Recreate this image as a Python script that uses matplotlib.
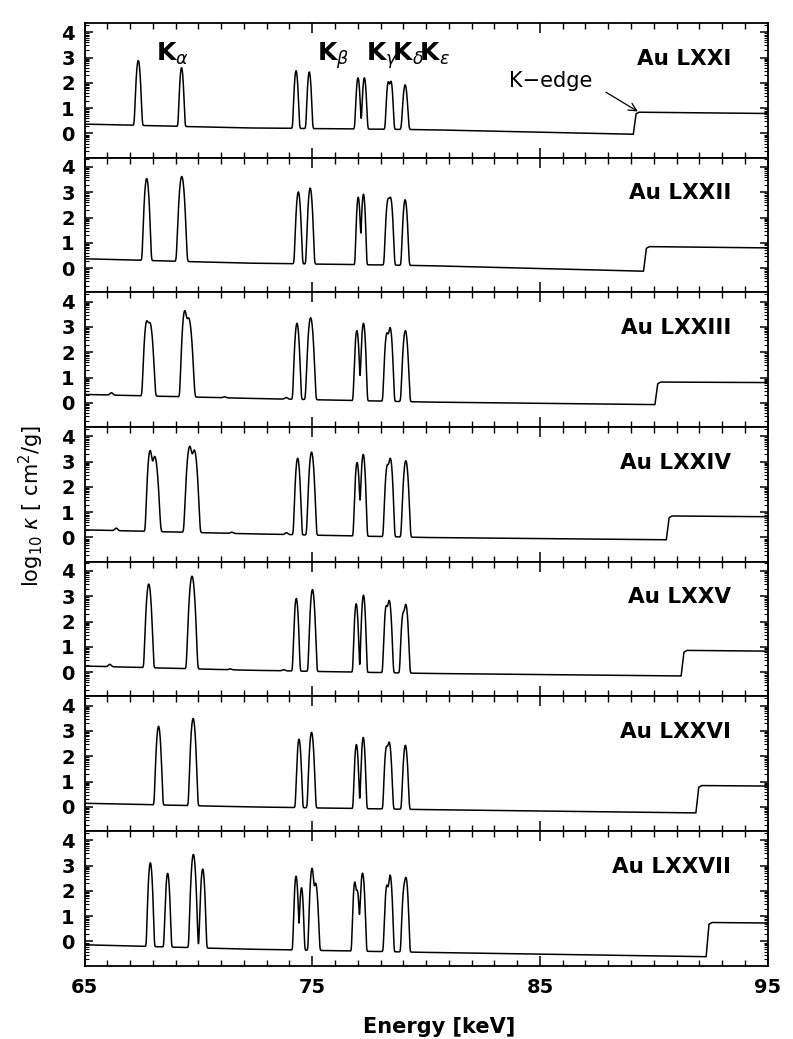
import numpy as np
import matplotlib
matplotlib.use("Agg")
import matplotlib.pyplot as plt
from matplotlib.ticker import FixedLocator, MultipleLocator

# ---------------- data ----------------
ION_LABELS = ["Au LXXI", "Au LXXII", "Au LXXIII", "Au LXXIV",
              "Au LXXV", "Au LXXVI", "Au LXXVII"]

# continuum (background) vertices incl. K-edge step, per panel
BG1_E = [65.0, 72.0, 80.0, 89.10, 89.22, 89.35, 95.0]
BG1_V = [0.37, 0.22, 0.15, -0.03, 0.78, 0.84, 0.79]
BG2_E = [65.0, 72.0, 80.0, 89.55, 89.67, 89.80, 95.0]
BG2_V = [0.37, 0.20, 0.10, -0.12, 0.78, 0.85, 0.80]
BG3_E = [65.0, 72.0, 80.0, 90.05, 90.17, 90.30, 95.0]
BG3_V = [0.33, 0.18, 0.03, -0.07, 0.75, 0.82, 0.80]
BG4_E = [65.0, 72.0, 80.0, 90.55, 90.67, 90.80, 95.0]
BG4_V = [0.30, 0.15, 0.00, -0.09, 0.78, 0.85, 0.82]
BG5_E = [65.0, 72.0, 80.0, 91.20, 91.32, 91.45, 95.0]
BG5_V = [0.24, 0.08, -0.05, -0.15, 0.78, 0.86, 0.83]
BG6_E = [65.0, 72.0, 80.0, 91.85, 91.97, 92.10, 95.0]
BG6_V = [0.14, 0.00, -0.11, -0.24, 0.77, 0.84, 0.82]
BG7_E = [65.0, 72.0, 80.0, 92.30, 92.42, 92.55, 95.0]
BG7_V = [-0.13, -0.30, -0.43, -0.60, 0.68, 0.75, 0.73]

# line features: centre energy [keV], peak log10 kappa, width [keV]
PK1_E = [67.36, 69.26, 74.29, 74.87, 77.01, 77.29, 78.34, 78.46, 79.08]
PK1_H = [2.88, 2.60, 2.48, 2.43, 2.20, 2.20, 2.03, 2.05, 1.92]
PK1_W = [0.05, 0.045, 0.045, 0.045, 0.045, 0.045, 0.045, 0.045, 0.055]

PK2_E = [67.73, 69.27, 74.39, 74.91, 77.02, 77.25, 78.33, 78.44, 79.08]
PK2_H = [3.54, 3.62, 3.01, 3.16, 2.80, 2.92, 2.70, 2.76, 2.70]
PK2_W = [0.052, 0.06, 0.05, 0.05, 0.04, 0.04, 0.05, 0.05, 0.05]

PK3_E = [66.18, 67.73, 67.87, 69.40, 69.57, 71.15, 73.86, 74.33, 74.93,
         76.96, 77.25, 78.28, 78.42, 79.09]
PK3_H = [0.40, 3.20, 3.15, 3.63, 3.35, 0.24, 0.21, 3.14, 3.36,
         2.85, 3.14, 2.75, 2.97, 2.85]
PK3_W = [0.06, 0.055, 0.065, 0.055, 0.07, 0.06, 0.06, 0.05, 0.058,
         0.045, 0.045, 0.05, 0.05, 0.055]

PK4_E = [66.39, 67.88, 68.08, 69.62, 69.82, 71.46, 73.87, 74.36, 74.97,
         76.97, 77.24, 78.30, 78.43, 79.11]
PK4_H = [0.37, 3.43, 3.20, 3.60, 3.45, 0.21, 0.19, 3.13, 3.37,
         2.96, 3.28, 2.85, 3.12, 3.03]
PK4_W = [0.06, 0.055, 0.07, 0.065, 0.065, 0.06, 0.06, 0.05, 0.055,
         0.045, 0.045, 0.05, 0.05, 0.055]

PK5_E = [66.11, 67.82, 69.72, 71.40, 73.74, 74.30, 75.01, 76.93, 77.25,
         78.25, 78.38, 78.99, 79.11]
PK5_H = [0.31, 3.48, 3.79, 0.13, 0.10, 2.91, 3.26, 2.70, 3.04,
         2.60, 2.83, 2.30, 2.67]
PK5_W = [0.06, 0.055, 0.06, 0.06, 0.06, 0.045, 0.05, 0.042, 0.042,
         0.045, 0.05, 0.045, 0.05]

PK6_E = [68.25, 69.77, 74.42, 74.97, 76.94, 77.24, 78.26, 78.38, 79.09]
PK6_H = [3.18, 3.49, 2.67, 2.94, 2.46, 2.74, 2.35, 2.55, 2.43]
PK6_W = [0.05, 0.052, 0.045, 0.05, 0.042, 0.042, 0.045, 0.05, 0.05]

PK7_E = [67.89, 68.65, 69.78, 70.19, 74.29, 74.53, 74.99, 75.15, 76.87,
         76.98, 77.21, 78.28, 78.42, 79.04, 79.12]
PK7_H = [3.11, 2.69, 3.44, 2.86, 2.58, 2.12, 2.89, 2.30, 2.34,
         2.00, 2.70, 2.22, 2.62, 2.12, 2.49]
PK7_W = [0.045, 0.045, 0.05, 0.045, 0.04, 0.04, 0.045, 0.05, 0.04,
         0.04, 0.045, 0.045, 0.045, 0.045, 0.045]

BG_E = [BG1_E, BG2_E, BG3_E, BG4_E, BG5_E, BG6_E, BG7_E]
BG_V = [BG1_V, BG2_V, BG3_V, BG4_V, BG5_V, BG6_V, BG7_V]
PK_E = [PK1_E, PK2_E, PK3_E, PK4_E, PK5_E, PK6_E, PK7_E]
PK_H = [PK1_H, PK2_H, PK3_H, PK4_H, PK5_H, PK6_H, PK7_H]
PK_W = [PK1_W, PK2_W, PK3_W, PK4_W, PK5_W, PK6_W, PK7_W]

X_MAJOR = [65, 75, 85, 95]
Y_MAJOR = [0, 1, 2, 3, 4]

# ---------------- figure ----------------
fig = plt.figure(figsize=(7.93, 10.39), dpi=100)
gs = fig.add_gridspec(7, 1, left=0.1066, right=0.968, bottom=0.0707,
                      top=0.978, hspace=0)

E = np.linspace(65, 95, 12001)
y_minor = [n + np.log10(k) for n in range(-1, 5) for k in range(2, 10)]
y_minor = [v for v in y_minor if -0.95 < v < 4.37]

axes = []
for i in range(7):
    ax = fig.add_subplot(gs[i])
    axes.append(ax)
    bg = np.interp(E, BG_E[i], BG_V[i])
    lin = 10.0 ** bg
    for e0, h, w in zip(PK_E[i], PK_H[i], PK_W[i]):
        b0 = np.interp(e0, BG_E[i], BG_V[i])
        amp = max(10.0 ** h - 10.0 ** b0, 0.0)
        lin = lin + amp * np.exp(-0.5 * ((E - e0) / w) ** 2)
    ax.plot(E, np.log10(lin), color="black", lw=1.1)

    ax.set_xlim(65, 95)
    ax.set_ylim(-0.95, 4.37)
    ax.xaxis.set_major_locator(FixedLocator(X_MAJOR))
    ax.xaxis.set_minor_locator(MultipleLocator(1))
    ax.yaxis.set_major_locator(FixedLocator(Y_MAJOR))
    ax.yaxis.set_minor_locator(FixedLocator(y_minor))
    ax.tick_params(axis="both", which="both", direction="in",
                   top=True, bottom=True, left=True, right=True)
    ax.tick_params(axis="x", which="major", length=7, width=1.1)
    ax.tick_params(axis="x", which="minor", length=4, width=1.0)
    ax.tick_params(axis="y", which="major", length=6, width=1.1)
    ax.tick_params(axis="y", which="minor", length=3, width=0.8)
    ax.tick_params(axis="y", labelsize=14, pad=7)
    ax.tick_params(axis="x", labelsize=14, pad=9,
                   labelbottom=(i == 6))
    for lab in ax.get_yticklabels() + ax.get_xticklabels():
        lab.set_fontweight("bold")
    for sp in ax.spines.values():
        sp.set_linewidth(1.3)

    ax.text(93.4, 2.72, ION_LABELS[i], ha="right", va="baseline",
            fontsize=15.5, fontweight="bold")

ax0 = axes[0]
ax0.text(68.15, 2.88, r"$\mathbf{K}_{\alpha}$", fontsize=18,
         ha="left", va="baseline")
ax0.text(75.2, 2.88, r"$\mathbf{K}_{\beta}$", fontsize=18,
         ha="left", va="baseline")
ax0.text(77.37, 2.88,
         r"$\mathbf{K}_{\gamma}\!\mathbf{K}_{\delta}\!\mathbf{K}_{\varepsilon}$",
         fontsize=18, ha="left", va="baseline")
ax0.text(83.64, 1.84, "K\u2212edge", fontsize=15, ha="left", va="baseline")
ax0.annotate("", xy=(89.3, 0.87), xytext=(87.9, 1.63),
             arrowprops=dict(arrowstyle="->", lw=0.9, color="black",
                             shrinkA=0, shrinkB=0, mutation_scale=14))

fig.text(0.040, 0.513, r"log$_{10}$ $\kappa$ [ cm$^2$/g]", rotation=90,
         fontsize=15, ha="center", va="center")
fig.text(0.554, 0.0115, "Energy [keV]", fontsize=15, fontweight="bold",
         ha="center", va="center")

fig.savefig("out.png", dpi=100)
